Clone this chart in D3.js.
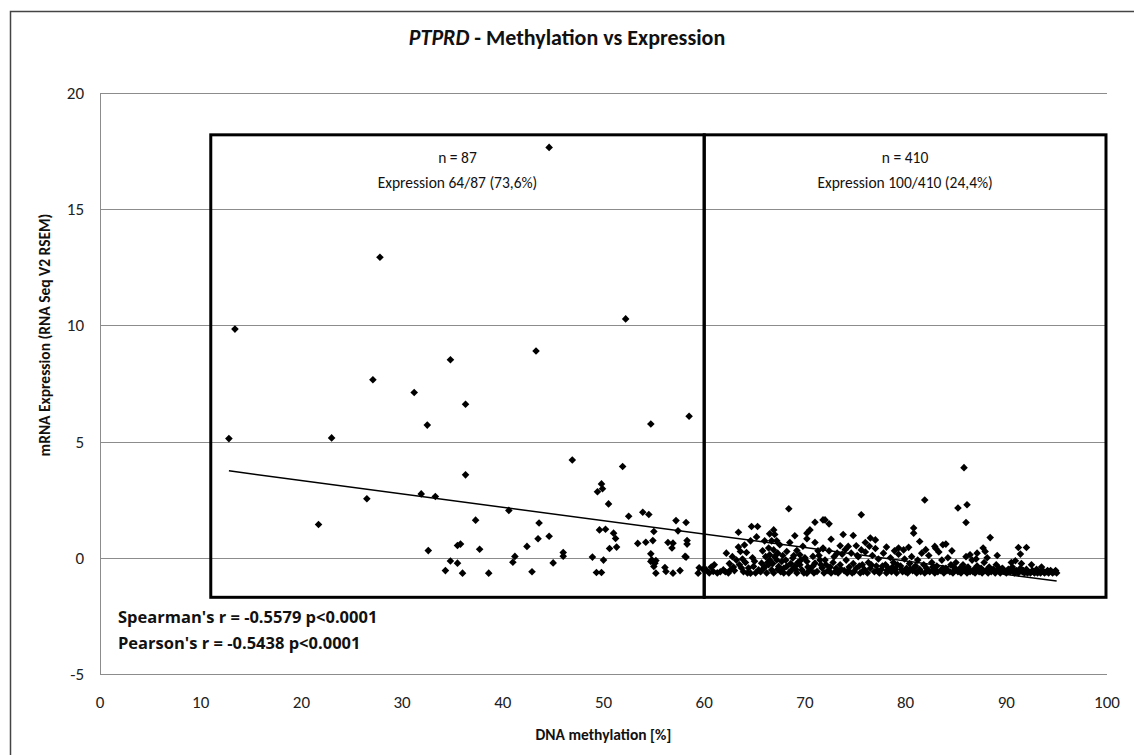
<!DOCTYPE html>
<html>
<head>
<meta charset="utf-8">
<script src="https://cdn.jsdelivr.net/npm/d3@7"></script>
<style>
  body { margin: 0; background: #fff; }
  svg { display: block; font-family: Carlito, Calibri, Lato, sans-serif; }
  .grid line { stroke: #8c8c8c; stroke-width: 1; }
  .tick-label { font-size: 17px; fill: #222; }
  .box { fill: none; stroke: #000; stroke-width: 3; }
  .box-text { font-size: 15.5px; fill: #111; text-anchor: middle; }
  .stat { font-family: "Open Sans", sans-serif; font-size: 16.5px; font-weight: bold; fill: #111; }
  .axis-title { font-size: 15.5px; font-weight: bold; fill: #111; text-anchor: middle; }
</style>
</head>
<body>
<div id="chart"></div>
<script>
////////////////////////////////////////////////////////////
///////////////////////// Data /////////////////////////////
////////////////////////////////////////////////////////////

// [methylation %, expression], methylation < 60
var lowGroup = [
	[13.4,9.84],[12.8,5.13],[34.8,8.52],[43.3,8.9],[27.1,7.66],[31.2,7.11],[36.3,6.61],[32.5,5.71],
	[52.2,10.28],[54.7,5.76],[58.5,6.09],[23.0,5.16],[46.9,4.21],[51.9,3.93],[36.3,3.57],[49.8,3.18],
	[49.4,2.84],[49.9,2.97],[31.9,2.75],[33.3,2.64],[26.5,2.54],[50.5,2.32],[21.7,1.43],[40.6,2.04],
	[52.5,1.79],[53.9,1.96],[54.5,1.86],[37.3,1.62],[43.6,1.5],[57.2,1.6],[58.2,1.52],[55.0,1.13],
	[57.4,1.16],[49.6,1.2],[50.2,1.23],[51.0,1.06],[51.2,0.83],[44.6,0.93],[43.5,0.82],[53.4,0.62],
	[54.2,0.67],[54.9,0.74],[56.4,0.66],[56.9,0.63],[56.8,0.42],[58.3,0.74],[58.3,0.59],[42.4,0.49],
	[50.6,0.4],[51.3,0.46],[35.5,0.53],[35.8,0.59],[32.6,0.31],[37.7,0.37],[46.0,0.23],[46.0,0.07],
	[48.9,0.03],[41.2,0.06],[41.0,-0.19],[54.7,0.17],[58.2,0.03],[34.8,-0.14],[35.5,-0.23],[45.0,-0.22],
	[50.0,-0.1],[54.7,-0.16],[55.2,-0.12],[55.0,-0.37],[56.1,-0.42],[56.2,-0.59],[56.9,-0.66],[57.6,-0.55],
	[55.2,-0.66],[34.3,-0.55],[36.0,-0.66],[38.6,-0.66],[42.9,-0.6],[49.3,-0.63],[49.8,-0.63],[44.6,17.66],
	[27.8,12.93],[59.5,-0.43],[59.4,-0.66],[59.9,-0.5],[54.8,-0.09],[55.1,-0.23],[58.1,0.06]
];

// methylation >= 60
var highGroup = [
	[68.4,2.11],[64.7,1.35],[65.3,1.35],[63.4,1.1],[66.9,1.2],[66.5,1.03],[71.0,1.53],[70.5,1.2],[70.2,1.06],
	[71.8,1.63],[64.6,0.73],[66.0,0.73],[66.7,0.73],[67.2,0.73],[67.5,0.56],[70.2,0.82],[71.0,0.66],[68.5,0.66],
	[63.4,0.46],[63.6,0.27],[64.2,0.23],[62.2,0.2],[66.4,0.42],[66.9,0.34],[67.3,0.2],[66.5,0.13],[68.2,0.27],
	[69.2,0.31],[69.5,0.13],[68.8,-0.01],[71.3,0.3],[71.8,0.39],[70.8,0.06],
	[81.9,2.49],[75.6,1.85],[72.0,1.63],[72.4,1.46],[74.8,0.96],[76.5,0.85],[77.0,0.77],[76.0,0.66],[78.1,0.46],
	[79.3,0.42],[79.8,0.34],[80.8,1.28],[80.8,1.06],[81.4,0.7],[82.9,0.49],[83.7,0.56],[71.8,0.42],[73.5,0.52],
	[74.3,0.49],[75.1,0.52],[75.6,0.34],
	[85.8,3.88],[85.2,2.14],[86.1,2.28],[86.0,1.52],[88.4,0.87],[84.0,0.59],[87.7,0.42],[87.9,0.27],[87.1,0.2],
	[86.4,0.13],[91.2,0.44],[92.0,0.44],[91.4,0.16],[90.9,-0.13],
	[60.2,-0.52],[60.9,-0.59],[61.9,-0.52],[62.6,-0.52],[60.5,-0.65],[61.3,-0.65],[62.1,-0.6],[62.9,-0.4],[63.2,-0.1],[62.8,0.05],
	[63.7,-0.44],[64.4,-0.44],[64.9,-0.37],[64.6,-0.66],[65.4,-0.52],[65.7,-0.23],[63.9,-0.6],[64.1,-0.2],[65.1,-0.65],[65.9,-0.45],
	[64.8,0.0],[63.5,-0.3],
	[66.4,-0.3],[66.7,-0.52],[67.4,-0.37],[67.7,-0.16],[67.2,-0.09],[66.5,-0.09],[66.2,-0.65],[66.9,-0.65],[67.6,-0.6],[67.9,-0.45],
	[66.1,0.05],[67.0,0.05],[67.8,0.1],[66.3,-0.2],
	[68.2,-0.37],[68.7,-0.52],[69.0,-0.37],[69.5,-0.3],[69.7,-0.52],[70.2,-0.16],[70.5,-0.52],[71.0,-0.23],[71.5,-0.09],[70.2,-0.66],
	[71.2,-0.59],[71.7,-0.44],[68.4,-0.65],[69.2,-0.65],[69.9,-0.65],[68.1,-0.1],[69.3,-0.2],[70.8,-0.35],[71.9,-0.65],[68.9,0.1],
	[70.0,0.0],[71.4,0.1],
	[72.1,-0.3],[72.3,-0.55],[72.6,-0.65],[72.8,-0.2],[72.9,0.05],[73.1,-0.45],[73.3,-0.65],[73.5,-0.3],[73.7,0.15],[73.9,-0.55],
	[74.1,-0.1],[74.2,-0.65],[74.4,-0.4],[74.6,0.2],[74.8,-0.25],[74.9,-0.6],[75.1,-0.45],[75.3,0.05],[75.5,-0.65],[75.7,-0.3],
	[75.9,-0.5],[76.0,0.25],[72.4,0.3],[73.2,0.2],[74.0,0.35],[75.2,0.1],
	[76.2,-0.65],[76.3,-0.2],[76.5,-0.45],[76.7,0.1],[76.9,-0.6],[77.1,-0.35],[77.3,-0.05],[77.4,-0.65],[77.6,-0.5],[77.8,0.2],
	[78.0,-0.3],[78.1,-0.65],[78.3,-0.45],[78.5,0.0],[78.6,-0.6],[78.8,-0.2],[79.0,-0.5],[79.1,-0.65],[79.3,0.15],[79.5,-0.35],
	[79.7,-0.6],[79.9,-0.05],[77.0,0.4],[78.9,0.3],[76.4,0.5],
	[80.1,-0.45],[80.2,-0.65],[80.4,-0.25],[80.6,0.05],[80.7,-0.55],[80.9,-0.4],[81.1,-0.65],[81.2,-0.1],[81.4,-0.5],[81.6,0.2],
	[81.8,-0.3],[81.9,-0.65],[82.1,-0.45],[82.3,0.1],[82.4,-0.6],[82.6,-0.2],[82.8,-0.5],[82.9,-0.65],[83.1,-0.35],[83.3,0.25],
	[83.5,-0.55],[83.6,-0.1],[83.8,-0.65],[84.0,-0.45],[84.2,0.0],[84.4,-0.6],[84.5,-0.3],[84.7,-0.65],[84.9,-0.5],[80.3,0.45],
	[82.0,0.35],[83.0,0.4],[84.6,0.3],
	[85.0,-0.2],[85.2,-0.6],[85.4,-0.45],[85.5,-0.65],[85.7,-0.3],[85.9,-0.55],[86.1,-0.65],[86.2,-0.4],[86.4,-0.6],[86.6,-0.1],
	[86.8,-0.5],[86.9,-0.65],[87.1,-0.35],[87.3,-0.6],[87.5,-0.45],[87.6,-0.65],[87.8,-0.2],[88.0,-0.55],[88.2,-0.65],[88.3,-0.4],
	[88.5,-0.6],[88.7,-0.5],[88.9,-0.65],[89.0,-0.3],[89.2,-0.55],[89.4,-0.65],[89.6,-0.45],[89.8,-0.6],[86.0,0.05],[87.0,-0.05],
	[88.1,0.0],[89.1,0.1],
	[90.0,-0.65],[90.2,-0.5],[90.4,-0.6],[90.6,-0.4],[90.8,-0.65],[91.0,-0.55],[91.2,-0.65],[91.4,-0.45],[91.6,-0.6],[91.8,-0.65],
	[92.0,-0.5],[92.2,-0.6],[92.4,-0.65],[92.6,-0.55],[92.8,-0.65],[93.0,-0.5],[93.2,-0.6],[93.4,-0.65],[93.6,-0.55],[93.8,-0.65],
	[94.0,-0.6],[94.2,-0.65],[94.4,-0.55],[94.6,-0.65],[94.8,-0.6],[95.0,-0.65],[91.5,-0.25],[92.5,-0.3],[90.5,-0.2],[93.5,-0.4],
	[60.7,-0.4],[61.6,-0.6],[62.4,-0.65],[63.0,-0.55],[63.8,-0.05],[64.3,-0.65],[65.0,-0.15],[65.6,-0.6],[66.0,-0.4],[66.8,-0.25],
	[67.3,-0.5],[67.9,-0.65],[68.6,-0.25],[69.1,-0.5],[69.6,-0.1],[70.3,-0.4],[70.9,-0.65],[71.6,-0.3],[72.0,-0.1],[72.5,-0.4],
	[73.0,-0.6],[73.6,-0.5],[74.3,-0.55],[74.7,-0.65],[75.4,-0.35],[75.8,-0.6],[76.6,-0.3],[77.2,-0.55],[77.7,-0.35],[78.2,-0.55],
	[78.7,-0.4],[79.2,-0.3],[79.6,-0.5],[80.0,-0.6],[80.5,-0.5],[81.0,-0.35],[81.5,-0.6],[82.2,-0.55],[82.7,-0.4],[83.2,-0.6],
	[83.7,-0.45],[84.1,-0.55],[84.8,-0.4],[85.3,-0.55],[85.8,-0.45],[86.3,-0.5],[86.7,-0.6],[87.2,-0.5],[87.7,-0.55],[88.4,-0.5],
	[88.8,-0.55],[89.3,-0.45],[89.7,-0.5],[90.1,-0.55],[90.7,-0.55],[91.1,-0.6],[91.7,-0.55],[92.1,-0.65],[92.7,-0.6],[93.1,-0.65],
	[93.7,-0.6],[94.1,-0.55],[94.5,-0.6],[94.9,-0.55],[64.0,0.55],[65.2,0.9],[67.0,1.0],[69.8,0.5],[72.6,0.8],[73.8,1.0],
	[69.0,0.95],[65.8,0.3],[62.5,-0.25],[61.0,-0.3]
];

var xTicks = [0, 10, 20, 30, 40, 50, 60, 70, 80, 90, 100];
var yTicks = [-5, 0, 5, 10, 15, 20];

// linear trend line
var trendSlope = -0.0577,
	trendIntercept = 4.48;

// the two group frames, in data units
var groupBoxes = [
	{x0: 11, x1: 60, top: 18.2, bottom: -1.7, lines: ["n = 87", "Expression 64/87 (73,6%)"]},
	{x0: 60, x1: 99.9, top: 18.2, bottom: -1.7, lines: ["n = 410", "Expression 100/410 (24,4%)"]}
];

var statLines = ["Spearman's r = -0.5579 p<0.0001", "Pearson's r = -0.5438 p<0.0001"];

////////////////////////////////////////////////////////////
///////////////////////// Setup ////////////////////////////
////////////////////////////////////////////////////////////

var width = 1134, height = 755;

var svg = d3.select("#chart").append("svg")
	.attr("width", width)
	.attr("height", height);

//Outer chart frame (runs off the bottom/right of the picture)
svg.append("rect")
	.attr("x", 10.5).attr("y", 11.5)
	.attr("width", 1140).attr("height", 760)
	.style("fill", "none")
	.style("stroke", "#444")
	.style("stroke-width", 1.5);

var x = d3.scaleLinear().domain([0, 100]).range([100, 1107]);
var y = d3.scaleLinear().domain([-5, 20]).range([674, 93]);

//Gridlines
var grid = svg.append("g").attr("class", "grid");
grid.selectAll(".hgrid")
	.data(yTicks)
	.enter().append("line")
	.attr("x1", x(0)).attr("x2", x(100))
	.attr("y1", function(d) { return Math.round(y(d)) + 0.5; })
	.attr("y2", function(d) { return Math.round(y(d)) + 0.5; });
grid.append("line")
	.attr("x1", x(0) + 0.5).attr("x2", x(0) + 0.5)
	.attr("y1", y(20)).attr("y2", y(-5));

//Tick labels
svg.selectAll(".ylab")
	.data(yTicks)
	.enter().append("text")
	.attr("class", "tick-label")
	.attr("x", 84)
	.attr("y", function(d) { return y(d); })
	.attr("dy", "0.35em")
	.style("text-anchor", "end")
	.text(function(d) { return d; });

svg.selectAll(".xlab")
	.data(xTicks)
	.enter().append("text")
	.attr("class", "tick-label")
	.attr("x", function(d) { return x(d); })
	.attr("y", 702)
	.attr("dy", "0.35em")
	.style("text-anchor", "middle")
	.text(function(d) { return d; });

////////////////////////////////////////////////////////////
///////////////////// Group frames /////////////////////////
////////////////////////////////////////////////////////////

var boxes = svg.selectAll(".group-box")
	.data(groupBoxes)
	.enter().append("g");

boxes.append("rect")
	.attr("class", "box")
	.attr("x", function(d) { return x(d.x0); })
	.attr("y", function(d) { return y(d.top); })
	.attr("width", function(d) { return x(d.x1) - x(d.x0); })
	.attr("height", function(d) { return y(d.bottom) - y(d.top); });

boxes.each(function(d) {
	d3.select(this).selectAll("text")
		.data(d.lines)
		.enter().append("text")
		.attr("class", "box-text")
		.attr("x", (x(d.x0) + x(d.x1)) / 2)
		.attr("y", function(t, i) { return y(d.top) + 23 + i * 25; })
		.attr("dy", "0.35em")
		.text(function(t) { return t; });
});

////////////////////////////////////////////////////////////
///////////////////////// Points ///////////////////////////
////////////////////////////////////////////////////////////

var allPoints = lowGroup.concat(highGroup);
var diamond = "M0,-3.8L3.8,0L0,3.8L-3.8,0Z";

svg.selectAll(".dot")
	.data(allPoints)
	.enter().append("path")
	.attr("class", "dot")
	.attr("d", diamond)
	.attr("transform", function(d) { return "translate(" + x(d[0]) + "," + y(d[1]) + ")"; })
	.style("fill", "#000");

//Trend line over the data range
var xExtent = d3.extent(allPoints, function(d) { return d[0]; });
svg.append("line")
	.attr("x1", x(xExtent[0])).attr("y1", y(trendIntercept + trendSlope * xExtent[0]))
	.attr("x2", x(xExtent[1])).attr("y2", y(trendIntercept + trendSlope * xExtent[1]))
	.style("stroke", "#000")
	.style("stroke-width", 1.5);

////////////////////////////////////////////////////////////
/////////////////////// Annotations ////////////////////////
////////////////////////////////////////////////////////////

svg.selectAll(".stat")
	.data(statLines)
	.enter().append("text")
	.attr("class", "stat")
	.attr("x", 118)
	.attr("y", function(d, i) { return 617 + i * 26; })
	.attr("dy", "0.35em")
	.text(function(d) { return d; });

var title = svg.append("text")
	.attr("x", 567)
	.attr("y", 37)
	.attr("dy", "0.35em")
	.style("text-anchor", "middle")
	.style("font-size", "22px")
	.style("font-weight", "bold")
	.style("fill", "#111");
title.append("tspan").style("font-style", "italic").text("PTPRD");
title.append("tspan").text(" - Methylation vs Expression");

svg.append("text")
	.attr("class", "axis-title")
	.attr("x", x(50))
	.attr("y", 735)
	.attr("dy", "0.35em")
	.text("DNA methylation [%]");

svg.append("text")
	.attr("class", "axis-title")
	.attr("transform", "translate(45," + 335 + ")rotate(-90)")
	.attr("dy", "0.35em")
	.text("mRNA Expression (RNA Seq V2 RSEM)");
</script>
</body>
</html>
